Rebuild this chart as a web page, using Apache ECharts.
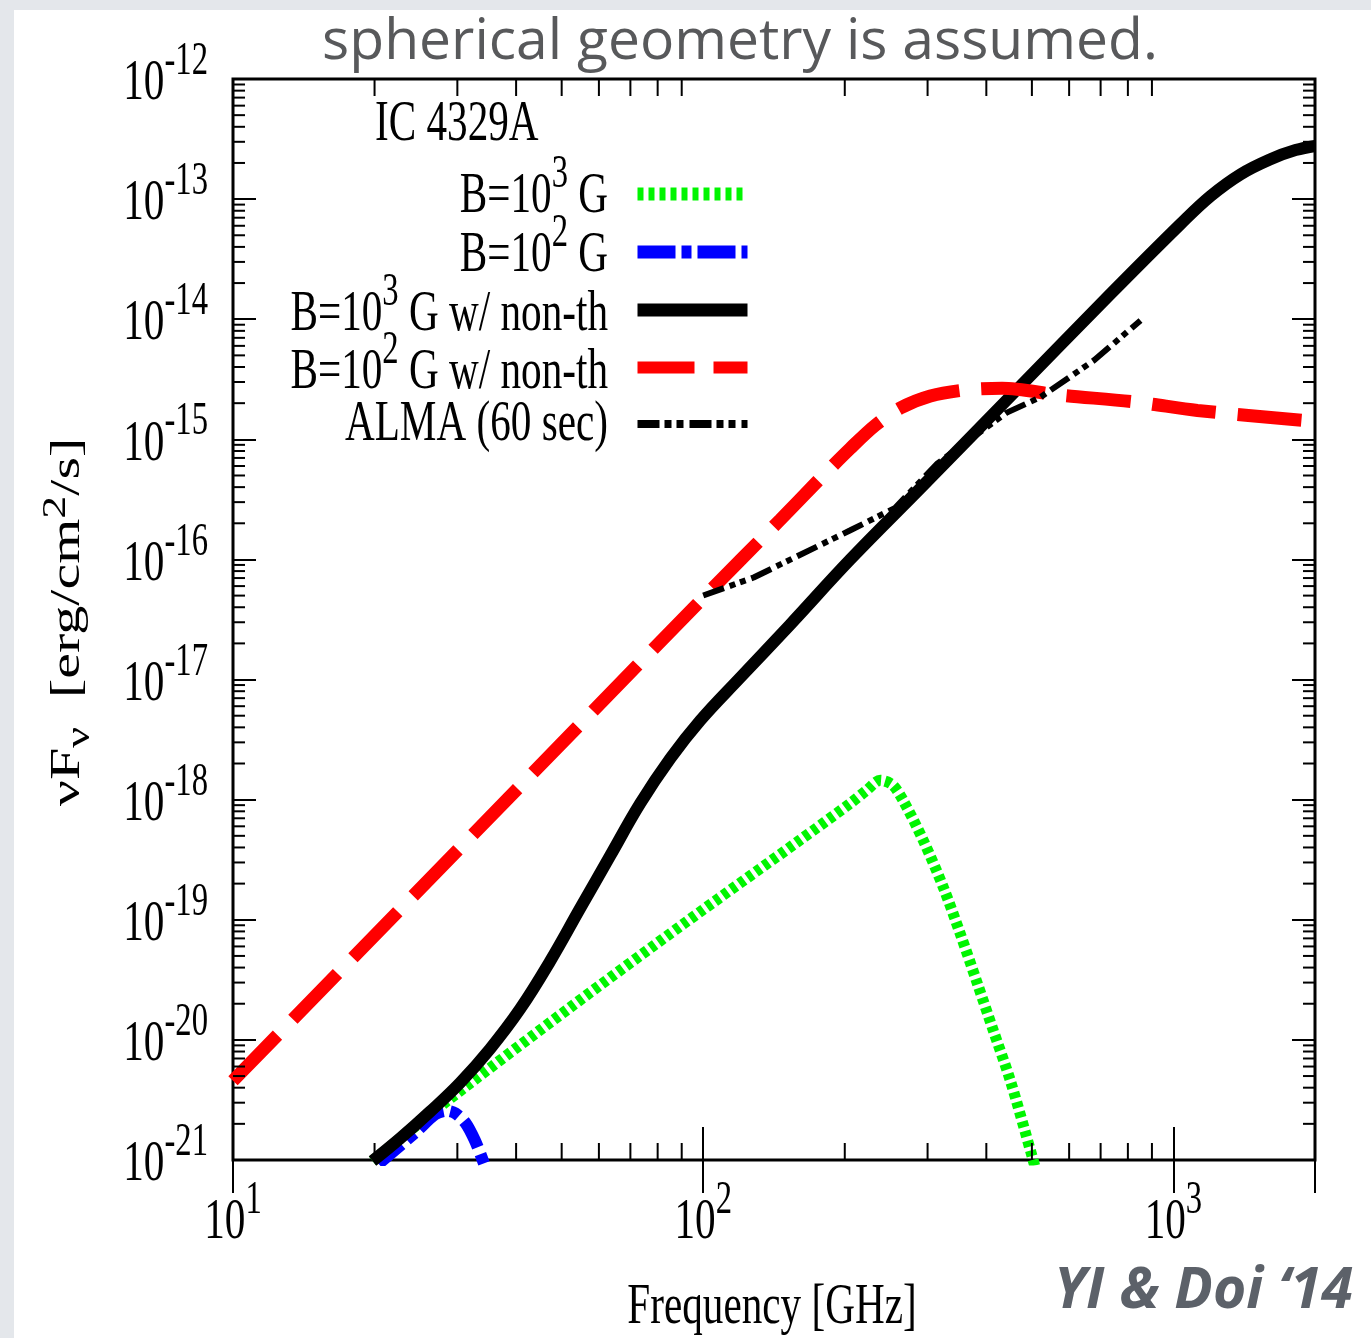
<!DOCTYPE html>
<html>
<head>
<meta charset="utf-8">
<title>IC 4329A</title>
<script src="https://cdn.jsdelivr.net/npm/echarts@6.0.0/dist/echarts.min.js"></script>
<style>
  html, body { margin: 0; padding: 0; background: #e4e7eb; overflow: hidden; }
  #card { position: absolute; left: 14px; top: 10px; right: 0; bottom: 0; background: #fff; }
  #chart { position: absolute; left: 0; top: 0; width: 1371px; height: 1338px; }
</style>
</head>
<body>
<div id="card"></div>
<div id="chart"></div>
<script>
// axis ranges (GHz, erg/cm^2/s)
const xMin = 10, xMax = 2000;
const yMin = 1e-21, yMax = 1e-12;
const xTickExps = [1, 2, 3];
const yTickExps = [-21, -20, -19, -18, -17, -16, -15, -14, -13, -12];

// B=10^3 G (thermal only)
const b3Freq = [19.8, 28.5, 52.1, 91.1, 160.1, 205.5, 222.3, 238.0, 252.5, 266.5, 293.8, 324.1, 352.3, 382.8, 414.1, 450.0, 501.2, 521];
const b3Flux = [9.8e-22, 3.09e-21, 1.86e-20, 9.33e-20, 4.57e-19, 9.33e-19, 1.19e-18, 1.45e-18, 1.33e-18, 9.77e-19, 4.57e-19, 1.86e-19, 7.59e-20, 2.95e-20, 1.19e-20, 4.57e-21, 1.05e-21, 6.03e-22];

// B=10^2 G (thermal only)
const b2Freq = [20.4, 24.6, 26.9, 28.5, 29.7, 31.2, 32.7, 34.2, 35.2];
const b2Flux = [9.3e-22, 1.74e-21, 2.40e-21, 2.57e-21, 2.45e-21, 2.04e-21, 1.45e-21, 9.3e-22, 6.8e-22];

// B=10^3 G w/ non-thermal
const b3NtFreq = [19.8, 22.7, 26.2, 30.4, 35.2, 40.8, 47.3, 54.7, 63.4, 73.4, 85.1, 98.5, 119.9, 153.1, 205.5, 289.6, 441.4, 734.5, 1035, 1199, 1389, 1608, 1818, 2000];
const b3NtFlux = [9.8e-22, 1.52e-21, 2.51e-21, 4.39e-21, 8.41e-21, 1.81e-20, 4.55e-20, 1.24e-19, 3.41e-19, 9.26e-19, 2.20e-18, 4.55e-18, 1.04e-17, 2.87e-17, 1.0e-16, 3.91e-16, 2.11e-15, 1.62e-14, 6.19e-14, 1.06e-13, 1.61e-13, 2.15e-13, 2.56e-13, 2.77e-13];

// B=10^2 G w/ non-thermal
const b2NtFreq = [10, 31.3, 100, 146, 177.4, 205.5, 232.3, 262.5, 304.1, 359, 432, 572, 834, 1125, 2000];
const b2NtFlux = [4.57e-21, 4.47e-19, 4.79e-17, 2.15e-16, 4.73e-16, 8.41e-16, 1.31e-15, 1.82e-15, 2.29e-15, 2.57e-15, 2.66e-15, 2.34e-15, 2.04e-15, 1.74e-15, 1.41e-15];

// ALMA sensitivity (60 sec)
const almaFreq = [100, 128, 205, 256, 315, 441, 521, 679, 851];
const almaFlux = [5.01e-17, 7.08e-17, 1.74e-16, 2.69e-16, 6.31e-16, 1.66e-15, 2.24e-15, 4.57e-15, 9.77e-15];

const seriesNames = ['B=10^3 G', 'B=10^2 G', 'B=10^3 G w/ non-th', 'B=10^2 G w/ non-th', 'ALMA (60 sec)'];

const SERIF = '"Liberation Serif", "Times New Roman", serif';
const SANS = '"Open Sans", "Noto Sans", sans-serif';
const SQUEEZE = 0.71;   // the figure is squashed horizontally

// base text sits at the bottom of a 74px line, superscripts hang from its top
const rich = {
    b: { fontFamily: SERIF, fontSize: 58, lineHeight: 58, verticalAlign: 'bottom', fill: '#000' },
    s: { fontFamily: SERIF, fontSize: 46, lineHeight: 74, verticalAlign: 'top', fill: '#000' }
};
// y axis name: base centred in an 80px line, sup at top, sub at bottom
const nameRich = {
    b: { fontFamily: SERIF, fontSize: 58, lineHeight: 80, verticalAlign: 'middle', fill: '#000' },
    s: { fontFamily: SERIF, fontSize: 46, lineHeight: 80, verticalAlign: 'top', fill: '#000' },
    u: { fontFamily: SERIF, fontSize: 46, lineHeight: 80, verticalAlign: 'bottom', fill: '#000' }
};

function zip(a, b) {
    return a.map((v, i) => [v, b[i]]);
}
function richName(name) {
    return '{b|' + name.replace(/\^(\d)/, '}{s|$1}{b|') + '}';
}

// minor ticks at 2..9 of every decade
const xMinor = [];
for (let e = 1; e <= 3; e++) {
    for (let m = 2; m <= 9; m++) {
        const v = Number(m + 'e' + e);
        if (v < xMax) xMinor.push([v, yMin]);
    }
}
const yMinor = [];
for (let e = -21; e <= -13; e++) {
    for (let m = 2; m <= 9; m++) yMinor.push([xMin, Number(m + 'e' + e)]);
}

const tickStyle = { stroke: '#000', lineWidth: 2 };

var chart = echarts.init(document.getElementById('chart'));

const logAxis = {
    type: 'log',
    logBase: 10,
    axisLine: { show: false },
    axisLabel: { show: false },
    splitLine: { show: false },
    axisTick: { show: true, inside: true, lineStyle: { color: '#000', width: 2 } }
};

chart.setOption({
    backgroundColor: 'transparent',
    animation: false,
    grid: {
        left: 233, top: 79, width: 1082, height: 1081,
        show: true, borderColor: '#000', borderWidth: 3, backgroundColor: 'transparent'
    },
    xAxis: [
        Object.assign({}, logAxis, { min: xMin, max: xMax, position: 'bottom', axisTick: Object.assign({}, logAxis.axisTick, { length: 33 }) }),
        Object.assign({}, logAxis, { min: xMin, max: xMax, position: 'top', axisTick: Object.assign({}, logAxis.axisTick, { length: 33 }) })
    ],
    yAxis: [
        Object.assign({}, logAxis, { min: yMin, max: yMax, splitNumber: 9, position: 'left', axisTick: Object.assign({}, logAxis.axisTick, { length: 23 }) }),
        Object.assign({}, logAxis, { min: yMin, max: yMax, splitNumber: 9, position: 'right', axisTick: Object.assign({}, logAxis.axisTick, { length: 23 }) })
    ],
    legend: {
        orient: 'vertical',
        align: 'right',
        left: 631,
        top: 187.5,
        padding: 0,
        itemWidth: 110,
        itemHeight: 14,
        itemGap: 45,
        selectedMode: false,
        formatter: () => '',
        textStyle: { fontSize: 8, lineHeight: 8 },
        itemStyle: { opacity: 0 },
        data: [
            { name: seriesNames[0], lineStyle: { width: 13, type: [6, 5] } },
            { name: seriesNames[1], lineStyle: { width: 13, type: [38, 6, 10, 6] } },
            { name: seriesNames[2], lineStyle: { width: 13 } },
            { name: seriesNames[3], lineStyle: { width: 12, type: [57, 19] } },
            { name: seriesNames[4], lineStyle: { width: 8, type: [22, 5, 7, 5, 7, 6] } }
        ]
    },
    graphic: [
        {
            type: 'text', x: 740, y: 71, silent: true,
            style: { text: 'spherical geometry is assumed.', fontFamily: SANS, fontSize: 57, lineHeight: 57, fill: '#58595b', align: 'center', verticalAlign: 'bottom' }
        },
        {
            type: 'text', x: 1353, y: 1320, silent: true,
            style: { text: 'YI & Doi \u201814', fontFamily: SANS, fontSize: 57, lineHeight: 57, fontWeight: 'bold', fontStyle: 'italic', fill: '#5c6169', align: 'right', verticalAlign: 'bottom' }
        },
        {
            type: 'text', x: 375, y: 154, scaleX: SQUEEZE, silent: true,
            style: { text: '{b|IC 4329A}', rich: rich, align: 'left', verticalAlign: 'bottom' }
        },
        {
            type: 'text', x: 772, y: 1337, scaleX: SQUEEZE, silent: true,
            style: { text: '{b|Frequency [GHz]}', rich: rich, align: 'center', verticalAlign: 'bottom' }
        },
        {
            type: 'text', x: 97, y: 622, rotation: Math.PI / 2, scaleY: SQUEEZE, silent: true,
            style: { text: '{b|\u03bdF}{u|\u03bd}{b|  [erg/cm}{s|2}{b|/s]}', rich: nameRich, align: 'center', verticalAlign: 'bottom' }
        }
    ].concat([226, 284.5, 343.5, 401.5, 454].map((y, i) => ({
        type: 'text', x: 608, y: y, scaleX: SQUEEZE, silent: true,
        style: { text: richName(seriesNames[i]), rich: rich, align: 'right', verticalAlign: 'bottom' }
    }))),
    series: [
        {
            name: seriesNames[0], type: 'line', data: zip(b3Freq, b3Flux),
            smooth: 0.3, symbol: 'none', z: 3,
            lineStyle: { color: '#00f500', width: 11, type: [6, 4], cap: 'butt' },
            emphasis: { disabled: true }
        },
        {
            name: seriesNames[1], type: 'line', data: zip(b2Freq, b2Flux),
            smooth: 0.3, symbol: 'none', z: 3,
            lineStyle: { color: '#0000ff', width: 12, type: [30, 7, 10, 7], cap: 'butt' },
            emphasis: { disabled: true }
        },
        {
            name: seriesNames[2], type: 'line', data: zip(b3NtFreq, b3NtFlux),
            smooth: 0.4, symbol: 'none', z: 4,
            lineStyle: { color: '#000', width: 12, type: 'solid', cap: 'butt', join: 'round' },
            emphasis: { disabled: true }
        },
        {
            name: seriesNames[3], type: 'line', data: zip(b2NtFreq, b2NtFlux),
            smooth: 0.3, symbol: 'none', z: 4,
            lineStyle: { color: '#ff0000', width: 13, type: [64, 22], cap: 'butt' },
            emphasis: { disabled: true }
        },
        {
            name: seriesNames[4], type: 'line', data: zip(almaFreq, almaFlux),
            symbol: 'none', z: 5,
            lineStyle: { color: '#000', width: 6, type: [22, 6, 6, 5, 6, 6], cap: 'butt' },
            emphasis: { disabled: true }
        },
        {
            // minor ticks on bottom and top frame
            type: 'custom', silent: true, clip: false, z: 6,
            data: xMinor,
            renderItem: function (params, api) {
                const b = api.coord([api.value(0), yMin]);
                const t = api.coord([api.value(0), yMax]);
                return {
                    type: 'group', children: [
                        { type: 'line', shape: { x1: b[0], y1: b[1], x2: b[0], y2: b[1] - 17 }, style: tickStyle },
                        { type: 'line', shape: { x1: t[0], y1: t[1], x2: t[0], y2: t[1] + 17 }, style: tickStyle }
                    ]
                };
            }
        },
        {
            // minor ticks on left and right frame
            type: 'custom', silent: true, clip: false, z: 6,
            data: yMinor,
            renderItem: function (params, api) {
                const l = api.coord([xMin, api.value(1)]);
                const r = api.coord([xMax, api.value(1)]);
                return {
                    type: 'group', children: [
                        { type: 'line', shape: { x1: l[0], y1: l[1], x2: l[0] + 12, y2: l[1] }, style: tickStyle },
                        { type: 'line', shape: { x1: r[0], y1: r[1], x2: r[0] - 12, y2: r[1] }, style: tickStyle }
                    ]
                };
            }
        },
        {
            // x tick labels 10^n
            type: 'custom', silent: true, clip: false, z: 6,
            data: xTickExps.map(e => [Math.pow(10, e), yMin, e]),
            renderItem: function (params, api) {
                const p = api.coord([api.value(0), yMin]);
                return {
                    type: 'text', x: p[0], y: p[1] + 92, scaleX: SQUEEZE,
                    style: { text: '{b|10}{s|' + api.value(2) + '}', rich: rich, align: 'center', verticalAlign: 'bottom' }
                };
            }
        },
        {
            // y tick labels 10^-n
            type: 'custom', silent: true, clip: false, z: 6,
            data: yTickExps.map(e => [xMin, Number('1e' + e), e]),
            renderItem: function (params, api) {
                const p = api.coord([xMin, api.value(1)]);
                return {
                    type: 'text', x: p[0] - 25, y: p[1] + 34, scaleX: SQUEEZE,
                    style: { text: '{b|10}{s|' + api.value(2) + '}', rich: rich, align: 'right', verticalAlign: 'bottom' }
                };
            }
        }
    ]
});
</script>
</body>
</html>
